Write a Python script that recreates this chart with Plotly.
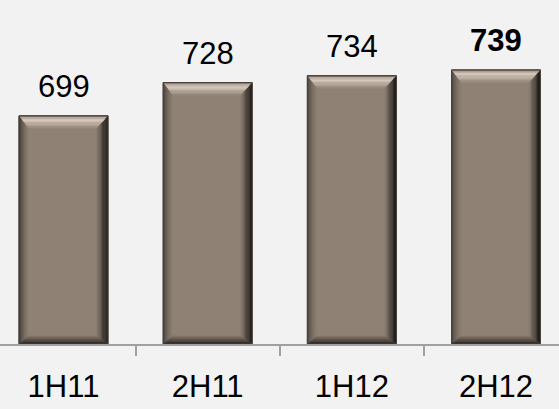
import plotly.graph_objects as go

# Half-year figures
periods = ["1H11", "2H11", "1H12", "2H12"]
values = [699, 728, 734, 739]
emphasised = ["2H12"]

FONT = "Arial, Liberation Sans, sans-serif"
BG = "#f2f2f2"
BASE = (143, 130, 117)

Y_MIN, Y_MAX = 500, 800
X_MIN, X_MAX = -0.4405, 3.437
BAR_W = 0.617

W, H = 559, 409
M_B = 65
px_x = W / (X_MAX - X_MIN)          # pixels per category unit
px_y = (H - M_B) / (Y_MAX - Y_MIN)  # pixels per value unit

fig = go.Figure()
fig.add_trace(go.Bar(
    x=list(range(len(periods))), y=values,
    width=BAR_W,
    marker=dict(color="rgb(%d,%d,%d)" % BASE, line=dict(color="#3a342e", width=1)),
    hoverinfo="skip",
))


def mix(c1, c2, t):
    return "rgb(%d,%d,%d)" % tuple(round(a + (b - a) * t) for a, b in zip(c1, c2))


def side_color(side, t):
    # colour of a bevel face at relative depth t (0 = outer edge, 1 = inner face)
    if side == "top":
        stops = [(0.0, (92, 84, 76)), (0.12, (175, 162, 149)), (0.3, (218, 204, 190)),
                 (0.55, (194, 180, 166)), (1.0, BASE)]
    elif side == "right":
        stops = [(0.0, (22, 19, 16)), (0.25, (45, 40, 35)), (0.6, (95, 86, 77)), (1.0, BASE)]
    elif side == "bottom":
        stops = [(0.0, (40, 36, 32)), (0.3, (62, 56, 50)), (0.7, (105, 95, 86)), (1.0, BASE)]
    else:
        stops = [(0.0, (58, 52, 46)), (0.25, (92, 84, 76)), (0.6, (122, 111, 100)), (1.0, BASE)]
    for (t0, c0), (t1, c1) in zip(stops, stops[1:]):
        if t <= t1:
            return mix(c0, c1, (t - t0) / (t1 - t0) if t1 > t0 else 0)
    return mix(BASE, BASE, 0)


# bevel depth per side, in pixels
bevel_px = {"top": 13, "right": 12, "bottom": 9, "left": 10}
steps = 10
shapes = []
for i, v in enumerate(values):
    x0, x1 = i - BAR_W / 2, i + BAR_W / 2
    y0, y1 = Y_MIN, v
    dT = bevel_px["top"] / px_y
    dB = bevel_px["bottom"] / px_y
    dL = bevel_px["left"] / px_x
    dR = bevel_px["right"] / px_x

    def rect(t):
        return (x0 + t * dL, x1 - t * dR, y0 + t * dB, y1 - t * dT)

    for k in range(steps):
        ta, tb = k / steps, min(1.0, (k + 1.15) / steps)
        a, b = rect(ta), rect(tb)
        tm = (k + 0.5) / steps
        quads = {
            "bottom": [(a[0], a[2]), (a[1], a[2]), (b[1], b[2]), (b[0], b[2])],
            "left": [(a[0], a[2]), (a[0], a[3]), (b[0], b[3]), (b[0], b[2])],
            "right": [(a[1], a[2]), (a[1], a[3]), (b[1], b[3]), (b[1], b[2])],
            "top": [(a[0], a[3]), (a[1], a[3]), (b[1], b[3]), (b[0], b[3])],
        }
        for side in ("bottom", "left", "right", "top"):
            pts = quads[side]
            path = "M " + " L ".join("%.5f,%.5f" % p for p in pts) + " Z"
            shapes.append(dict(type="path", path=path, xref="x", yref="y",
                               fillcolor=side_color(side, tm), line=dict(width=0),
                               layer="above"))
    # thin dark outline around the bar
    shapes.append(dict(type="rect", x0=x0, x1=x1, y0=y0, y1=y1, xref="x", yref="y",
                       line=dict(color="#4a433c", width=1), fillcolor="rgba(0,0,0,0)",
                       layer="above"))

annotations = []
for i, (p, v) in enumerate(zip(periods, values)):
    txt = "<b>%d</b>" % v if p in emphasised else str(v)
    annotations.append(dict(x=i, y=v, xref="x", yref="y", text=txt, showarrow=False,
                            yanchor="bottom", yshift=10,
                            font=dict(family=FONT, size=31, color="#000000")))

fig.update_layout(
    width=W, height=H,
    margin=dict(l=0, r=0, t=0, b=M_B),
    paper_bgcolor=BG, plot_bgcolor=BG,
    showlegend=False,
    shapes=shapes,
    annotations=annotations,
    xaxis=dict(
        range=[X_MIN, X_MAX],
        tickmode="array", tickvals=list(range(len(periods))), ticktext=periods,
        showgrid=False, zeroline=False,
        showline=True, linecolor="#a0a0a0", linewidth=2,
        ticks="",
        minor=dict(tick0=0.5, dtick=1, ticks="outside", ticklen=10, tickwidth=2,
                   tickcolor="#a0a0a0", showgrid=False),
        ticklabelstandoff=14,
        tickfont=dict(family=FONT, size=31, color="#000000"),
        fixedrange=True,
    ),
    yaxis=dict(range=[Y_MIN, Y_MAX], visible=False, fixedrange=True),
)

fig.write_html("out.html")
